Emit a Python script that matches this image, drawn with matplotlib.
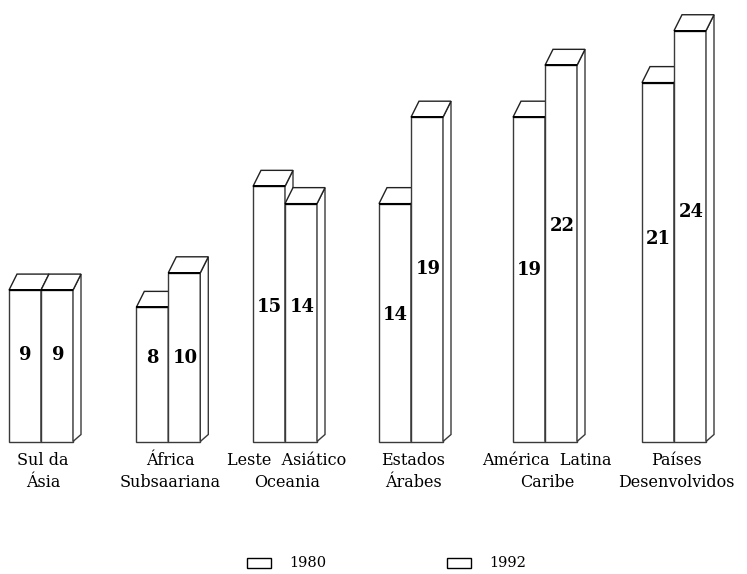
import matplotlib
matplotlib.use("Agg")
import matplotlib.pyplot as plt
from matplotlib.patches import Polygon, Rectangle

# ---- data ----
categories = ["Sul da\nÁsia", "África\nSubsaariana", "Leste  Asiático\nOceania",
              "Estados\nÁrabes", "América  Latina\nCaribe", "Países\nDesenvolvidos"]
series_names = ["1980", "1992"]
values_1980 = [9, 8, 15, 14, 19, 21]
values_1992 = [9, 10, 14, 19, 22, 24]

# ---- layout (pixel-like x, value-unit y) ----
W, H = 747, 574
px_per_unit = 17.29
zero_px = 445.7           # pixel row (from top) of value 0
floor_px = 441.5          # pixel row where bars stand
group_centers = [41, 168.3, 285, 411, 545, 674]
bar_w = 32
dx = 8                    # depth offset in x (px)
dy_top = 16 / px_per_unit
dy_bot = 7 / px_per_unit
label_y = [(5.0, 5.0), (4.83, 4.83), (7.77, 7.77), (7.31, 10.0), (9.91, 12.47), (11.7, 13.3)]

def py(pix_from_top):
    return (zero_px - pix_from_top) / px_per_unit

floor = py(floor_px)
label_shift = py(441.5)   # label values measured from floor

fig = plt.figure(figsize=(W / 100, H / 100), dpi=100)
ax = fig.add_axes([0, 0, 1, 1])
ax.set_xlim(0, W)
ax.set_ylim(py(H), py(0))
ax.axis("off")

edge = "#3a3a3a"
z = 1
def draw_bar(x0, v):
    global z
    x1 = x0 + bar_w
    ax.add_patch(Rectangle((x0, floor), bar_w, v - floor, facecolor="white", edgecolor=edge, lw=1.0, zorder=z))
    ax.add_patch(Polygon([(x1, floor), (x1 + dx, floor + dy_bot), (x1 + dx, v + dy_top), (x1, v)],
                         closed=True, facecolor="white", edgecolor=edge, lw=1.0, zorder=z))
    ax.add_patch(Polygon([(x0, v), (x0 + dx, v + dy_top), (x1 + dx, v + dy_top), (x1, v)],
                         closed=True, facecolor="white", edgecolor="#222222", lw=1.0, zorder=z))
    ax.plot([x0, x1], [v, v], color="black", lw=1.4, zorder=z + 0.5, solid_capstyle="butt")
    z += 1

for i, c in enumerate(group_centers):
    v80, v92 = values_1980[i], values_1992[i]
    draw_bar(c - bar_w, v80)
    draw_bar(c, v92)
    ax.text(c - bar_w / 2, label_y[i][0] + label_shift, str(v80), ha="center", va="center",
            fontsize=13, fontweight="bold", family="DejaVu Serif", zorder=50)
    ax.text(c + bar_w / 2 + 1, label_y[i][1] + label_shift, str(v92), ha="center", va="center",
            fontsize=13, fontweight="bold", family="DejaVu Serif", zorder=50)
    ax.text(c + 2, py(452), categories[i], ha="center", va="top", fontsize=11.5,
            family="DejaVu Serif", linespacing=1.35)

# legend
leg_box_x = [247, 447]
for name, bx in zip(series_names, leg_box_x):
    ax.add_patch(Rectangle((bx, py(567.5)), 24, 10 / px_per_unit, facecolor="white",
                           edgecolor="black", lw=1.0))
    ax.text(bx + 42, py(563), name, ha="left", va="center", fontsize=10.5,
            family="DejaVu Serif")

fig.savefig("out.png", dpi=100)
